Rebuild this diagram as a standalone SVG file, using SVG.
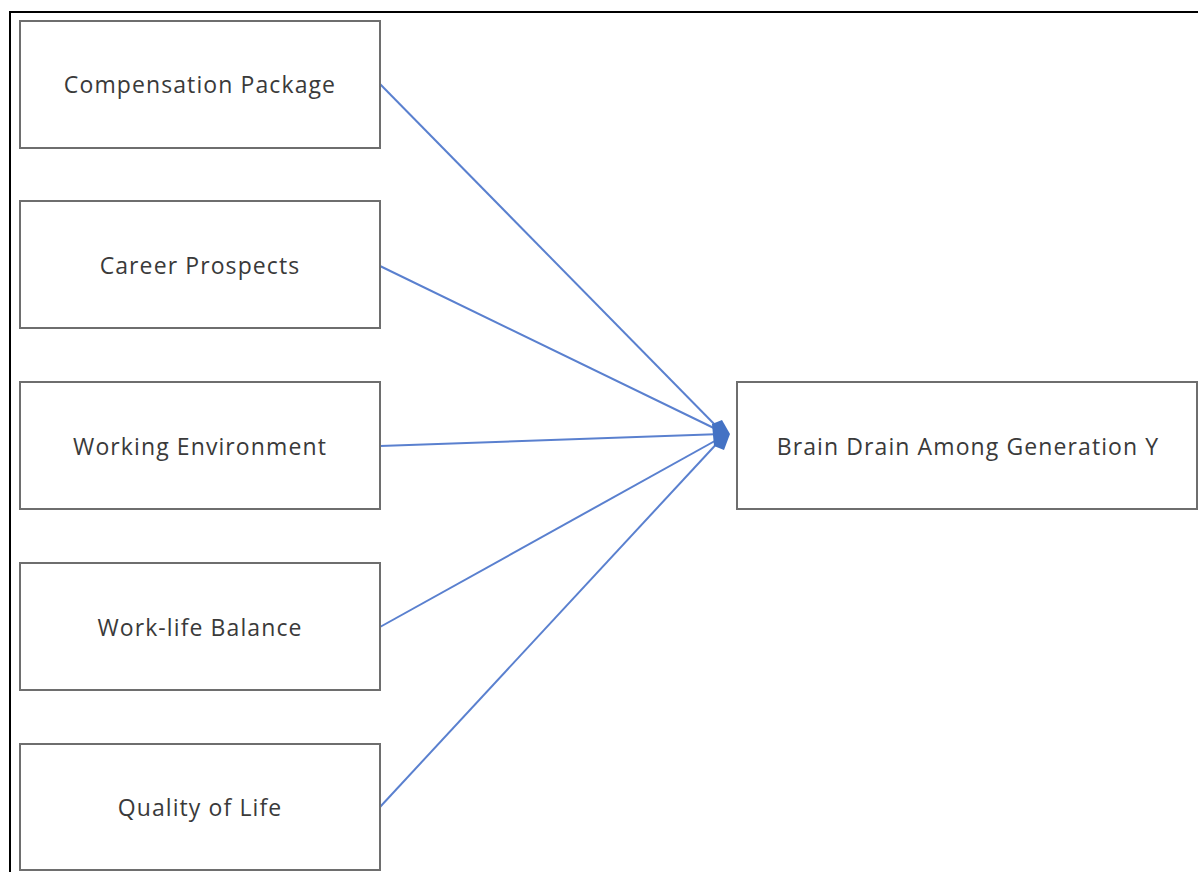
<svg xmlns="http://www.w3.org/2000/svg" width="1198" height="872" viewBox="0 0 1198 872">
<defs>
<style>
.frame{fill:none;stroke:#000;stroke-width:2}
.box{fill:#fff;stroke:#6e6e6e;stroke-width:2}
.lbl{font-family:"Open Sans","Noto Sans",sans-serif;font-size:23px;letter-spacing:1.1px;fill:#3a3a3a;text-anchor:middle;dominant-baseline:central}
.conn{stroke:#5a80cf;stroke-width:2;fill:none}
</style>
</defs>
<rect width="1198" height="872" fill="#fff"/>
<path class="frame" d="M10,872 V12 H1198"/>
<g id="connectors">
<line class="conn" x1="380" y1="84" x2="722" y2="432"/>
<line class="conn" x1="380" y1="266" x2="722" y2="432"/>
<line class="conn" x1="380" y1="446" x2="722" y2="434"/>
<line class="conn" x1="380" y1="627" x2="722" y2="437"/>
<line class="conn" x1="380" y1="807" x2="722" y2="438"/>
<path d="M712,424 L722,420 L730,434 L724,450 L714,446 Z" fill="#4472c4"/>
</g>
<g id="n1"><rect class="box" x="20" y="21" width="360" height="127"/><text class="lbl" x="200" y="84">Compensation Package</text></g>
<g id="n2"><rect class="box" x="20" y="201" width="360" height="127"/><text class="lbl" x="200" y="265">Career Prospects</text></g>
<g id="n3"><rect class="box" x="20" y="382" width="360" height="127"/><text class="lbl" x="200" y="446">Working Environment</text></g>
<g id="n4"><rect class="box" x="20" y="563" width="360" height="127"/><text class="lbl" x="200" y="627">Work-life Balance</text></g>
<g id="n5"><rect class="box" x="20" y="744" width="360" height="126"/><text class="lbl" x="200" y="807">Quality of Life</text></g>
<g id="n6"><rect class="box" x="737" y="382" width="460" height="127"/><text class="lbl" x="968" y="446">Brain Drain Among Generation Y</text></g>
</svg>
